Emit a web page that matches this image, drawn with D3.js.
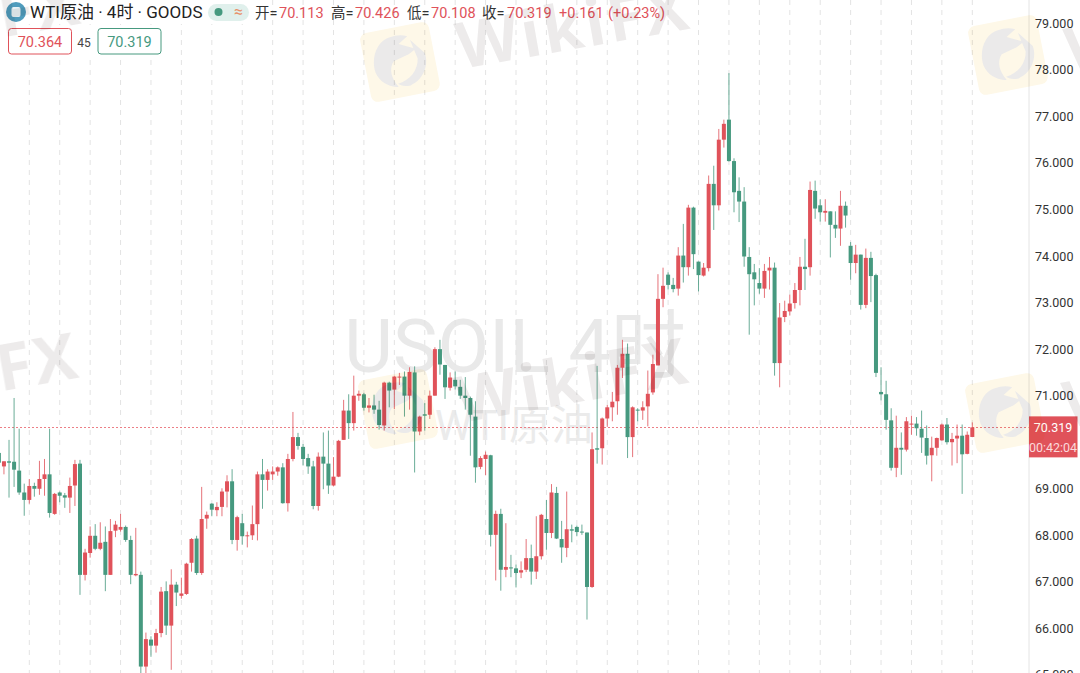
<!DOCTYPE html>
<html><head><meta charset="utf-8">
<script src="https://cdn.jsdelivr.net/npm/d3@7"></script>
<style>html,body{margin:0;padding:0;background:#fff;overflow:hidden}svg{display:block}</style>
</head><body><svg id="c" width="1080" height="673"></svg>
<script>
const opens=[69.77,69.48,69.59,69.58,69.39,68.92,68.76,69.06,69.0,69.21,
69.31,68.46,68.92,68.86,68.81,69.07,69.54,67.15,67.62,67.99,
67.71,67.86,67.15,68.1,68.12,68.18,67.9,67.14,67.15,65.18,
65.76,65.63,65.9,66.8,66.06,66.94,66.7,66.74,67.41,67.93,
67.19,68.36,68.68,68.54,68.61,68.94,69.16,67.9,68.26,67.98,
68.0,68.24,69.31,69.19,69.31,69.37,69.46,68.69,69.64,70.11,
69.9,69.66,69.48,68.63,69.69,69.54,69.07,69.26,70.05,70.68,
70.41,71.0,71.03,70.74,70.79,70.7,70.36,71.28,71.13,71.39,
71.41,71.0,71.5,70.23,70.6,70.59,71.0,72.0,71.66,71.17,
71.34,71.19,71.0,70.95,70.55,69.47,69.64,69.72,68.01,68.46,
67.26,67.31,67.29,67.2,67.26,67.51,67.22,67.55,68.35,68.05,
68.91,67.92,67.73,68.13,68.18,68.08,68.06,66.89,69.87,69.87,
70.51,70.75,70.88,71.6,71.9,70.11,70.7,70.68,70.77,71.07,
71.65,73.08,73.6,73.38,73.3,74.01,73.76,75.04,73.88,73.58,
73.74,75.55,75.09,76.5,76.93,76.04,75.4,75.17,73.98,73.65,
73.42,73.3,73.69,73.75,71.7,72.69,72.81,72.99,73.27,73.77,
73.76,75.4,75.09,74.93,74.96,74.67,74.59,75.08,74.22,73.85,
74.03,72.95,73.96,73.59,71.08,71.03,70.47,69.45,69.88,69.84,
70.38,70.4,70.29,70.09,69.72,69.88,70.04,70.38,70.0,70.08,
70.14,69.75,70.113];
const highs=[69.88,69.59,70.05,70.95,70.29,69.11,69.21,69.13,69.6,69.64,
70.29,68.91,68.94,68.91,69.24,69.62,69.62,67.71,68.19,68.24,
68.28,68.19,68.35,68.31,68.46,68.21,67.99,68.16,67.22,65.91,
65.83,65.99,66.89,67.01,67.27,67.0,67.09,67.41,67.94,67.99,
69.04,68.51,68.69,68.71,69.01,69.29,69.42,68.42,68.46,68.08,
68.64,69.37,69.64,69.42,69.48,69.48,69.55,69.75,70.65,70.2,
69.96,69.75,69.6,69.78,70.21,70.25,69.68,70.05,70.91,71.03,
71.43,71.11,71.06,70.95,71.02,70.89,71.3,71.3,71.43,71.49,
71.52,71.61,71.63,70.57,70.84,71.11,72.04,72.2,71.66,71.5,
71.52,71.34,71.4,70.98,70.88,69.7,69.8,69.73,68.53,68.57,
68.26,67.58,67.37,67.44,67.92,67.8,68.41,68.46,68.76,69.1,
69.04,68.31,68.94,68.23,68.21,68.23,68.06,70.21,71.64,70.53,
70.8,71.08,71.66,72.2,72.12,70.77,70.73,70.88,71.54,71.88,
73.61,73.75,73.65,73.53,74.19,74.69,75.1,75.06,73.88,73.85,
75.73,75.94,76.73,76.93,77.93,76.1,75.69,75.48,74.19,73.83,
73.74,73.83,73.98,73.86,72.99,73.04,73.17,73.42,73.98,74.37,
75.6,75.62,75.22,75.22,74.96,74.96,75.4,75.17,74.3,74.24,
74.03,74.16,74.09,73.62,71.61,71.32,70.73,70.57,70.21,70.54,
70.57,70.54,70.68,70.36,70.12,70.1,70.4,70.52,70.2,70.38,
70.38,70.23,70.426];
const lows=[69.45,69.31,68.81,69.04,68.87,68.42,68.68,68.83,68.87,68.85,
68.38,68.44,68.71,68.59,68.48,68.63,66.72,67.03,67.52,67.68,
67.68,66.8,67.15,67.96,68.08,67.86,66.95,67.12,65.0,65.0,
65.39,65.48,65.81,65.86,65.11,66.48,66.64,66.72,67.22,67.15,
67.15,68.14,68.41,68.41,68.41,68.6,67.81,67.67,67.8,67.74,
67.9,67.89,68.57,68.96,69.19,69.28,68.68,68.51,69.59,69.84,
69.5,69.32,68.56,68.53,68.99,68.89,69.05,69.25,70.05,70.07,
70.25,70.89,70.68,70.64,70.61,70.27,70.25,70.75,70.71,71.23,
70.55,70.7,69.35,70.15,70.25,70.5,71.0,71.45,70.93,71.11,
71.13,70.93,70.7,69.71,69.13,69.42,69.29,67.76,67.03,66.81,
67.1,67.1,66.88,67.08,67.21,66.94,67.06,67.48,67.69,67.94,
67.92,67.41,67.53,67.85,67.98,68.01,66.19,66.87,69.54,69.52,
70.33,70.45,70.59,71.38,69.66,69.68,70.45,70.48,70.34,71.02,
71.65,72.9,73.28,73.22,73.15,73.43,73.58,73.72,73.24,73.56,
73.67,74.56,74.98,76.33,76.03,74.94,74.73,73.77,72.31,72.94,
73.19,73.1,73.28,71.43,71.18,72.58,72.72,72.87,72.94,73.27,
73.58,74.8,74.74,74.74,73.97,74.39,74.22,74.61,73.49,73.63,
72.85,72.88,73.01,71.4,70.9,70.27,69.39,69.25,69.3,69.8,
70.16,70.14,69.77,69.52,69.16,69.71,70.03,69.95,69.5,69.55,
68.89,69.74,70.108];
const closes=[69.56,69.59,69.56,69.41,68.92,68.76,69.06,69.0,69.21,69.31,
68.48,68.89,68.85,68.81,69.06,69.53,67.15,67.63,67.99,67.71,
67.84,67.15,68.09,68.23,68.18,67.9,67.15,67.17,65.18,65.77,
65.63,65.9,66.79,66.06,66.94,66.77,66.75,67.39,67.92,67.19,
68.35,68.44,68.55,68.61,68.94,69.16,67.9,68.39,67.98,68.0,
68.24,69.31,69.19,69.37,69.37,69.46,68.69,69.64,70.11,69.92,
69.64,69.48,68.63,69.69,69.54,69.07,69.26,70.03,70.68,70.41,
71.0,71.04,70.74,70.79,70.7,70.37,71.28,71.11,71.41,71.41,
71.0,71.51,70.23,70.55,70.57,71.0,72.0,71.67,71.18,71.39,
71.2,71.0,70.95,70.59,69.46,69.66,69.73,68.01,68.46,67.26,
67.32,67.29,67.19,67.25,67.51,67.22,67.55,68.44,68.05,68.92,
67.93,67.74,68.13,68.1,68.07,68.06,66.89,69.85,69.84,70.51,
70.75,70.87,71.6,71.9,70.11,70.75,70.68,70.75,71.04,71.68,
73.08,73.36,73.38,73.29,74.01,73.76,75.04,74.04,73.59,73.75,
75.55,75.09,76.5,76.84,76.04,75.37,75.17,73.99,73.61,73.5,
73.3,73.68,73.75,71.7,72.68,72.82,72.98,73.27,73.77,73.72,
75.42,75.02,74.94,74.97,74.67,74.59,75.08,74.87,73.85,74.03,
72.95,73.96,73.57,71.49,71.03,70.48,69.45,69.88,69.84,70.45,
70.4,70.3,70.1,69.71,69.88,70.09,70.38,70.0,70.07,70.14,
69.74,70.16,70.319];
const priceTicks=[79,78,77,76,75,74,73,72,71,69,68,67,66,65];
const lastPrice=70.319;
const lastPriceLabel="70.319";
const countdownLabel="00:42:04";
const titleText="WTI原油 · 4时 · GOODS";
const ohlcPairs=[["开=","70.113",255,279],["高=","70.426",331,355],["低=","70.108",407,431],["收=","70.319",482,507]];
const changeParts=[["+0.161",559],["(+0.23%)",608]];
const bidLabel="70.364", spreadLabel="45", askLabel="70.319";
const watermarkLogos=[[400,62],[1008,55],[398,409],[1005,413]];
const watermarkTexts=[[461,69],[1070,74],[460,423],[1068,428],[-148,64],[-150,418]];

const UP="#e0525a", DOWN="#46997f";
const FONT='Roboto,"Noto Sans CJK SC",sans-serif';
const svg=d3.select("#c");
const W=1080,H=673,AX=1029;
const x=d3.scaleLinear().domain([0,192]).range([-1.12,972.3]);
const y=d3.scaleLinear().domain([66,79]).range([628.4,23.3]);

// chart's own watermark, under the marks
const cwm=svg.append("g");
cwm.append("text").attr("x",515).attr("y",372).attr("text-anchor","middle").attr("font-family",FONT)
  .attr("font-size",75).attr("fill","#e9e9e9").text("USOIL 4时");
cwm.append("text").attr("x",514).attr("y",440).attr("text-anchor","middle").attr("font-family",FONT)
  .attr("font-size",42).attr("fill","#ebebeb").text("WTI原油");

// vertical grid
const gridIdx=d3.range(6,193,6);
svg.append("g").selectAll("line").data(gridIdx).join("line")
  .attr("x1",d=>x(d)).attr("x2",d=>x(d)).attr("y1",0).attr("y2",H)
  .attr("stroke","#e3e3e3").attr("stroke-width",1).attr("stroke-dasharray","5 5");

// last price line
const lastY=Math.round(y(lastPrice))+.5;
svg.append("line").attr("x1",0).attr("x2",AX).attr("y1",lastY).attr("y2",lastY)
  .attr("stroke","#ec7f86").attr("stroke-width",1).attr("stroke-dasharray","2 2");

// candles
const idx=d3.range(opens.length);
const col=i=>closes[i]>=opens[i]?UP:DOWN;
const cg=svg.append("g");
cg.selectAll("line").data(idx).join("line")
  .attr("x1",x).attr("x2",x).attr("y1",i=>y(highs[i])).attr("y2",i=>y(lows[i]))
  .attr("stroke",col).attr("stroke-width",1).attr("opacity",.8);
cg.selectAll("rect").data(idx).join("rect")
  .attr("x",i=>x(i)-2).attr("width",4)
  .attr("y",i=>y(Math.max(opens[i],closes[i])))
  .attr("height",i=>Math.max(1,Math.abs(y(opens[i])-y(closes[i]))))
  .attr("fill",col);

// price axis
svg.append("rect").attr("x",AX).attr("y",0).attr("width",W-AX).attr("height",H).attr("fill","#fff");
svg.append("line").attr("x1",AX).attr("x2",AX).attr("y1",0).attr("y2",H).attr("stroke","#e4e4e4");
const ax=svg.append("g").attr("transform",`translate(${AX},0)`)
  .call(d3.axisRight(y).tickValues(priceTicks).tickSize(0).tickPadding(6).tickFormat(d3.format(".3f")));
ax.select(".domain").remove();
ax.selectAll("text").attr("font-family",FONT).attr("font-size",12.5).attr("fill","#333");

// last price tag
const tagY=y(lastPrice);
svg.append("rect").attr("x",AX).attr("y",tagY-11).attr("width",48.5).attr("height",41).attr("fill","#e0525a");
svg.append("text").attr("x",AX+24).attr("y",tagY+4.5).attr("text-anchor","middle").attr("font-family",FONT)
  .attr("font-size",12.5).attr("fill","#fff").text(lastPriceLabel);
svg.append("text").attr("x",AX+24).attr("y",tagY+25).attr("text-anchor","middle").attr("font-family",FONT)
  .attr("font-size",12.5).attr("fill","#fbd9db").text(countdownLabel);

// legend
svg.append("rect").attr("x",0).attr("y",0).attr("width",252).attr("height",24).attr("fill","#fff");
svg.append("rect").attr("x",5).attr("y",26).attr("width",160).attr("height",30).attr("fill","#fff");
svg.append("circle").attr("cx",16).attr("cy",12).attr("r",10).attr("fill","#4f9cbd");
svg.append("rect").attr("x",11.5).attr("y",7).attr("width",9).attr("height",10).attr("rx",2).attr("fill","#e9f3f7");
svg.append("text").attr("x",30).attr("y",18).attr("font-family",FONT).attr("font-size",17).attr("fill","#222").text(titleText);
svg.append("rect").attr("x",208).attr("y",4).attr("width",41).attr("height",17).attr("rx",8.5).attr("fill","#e0f0ec");
svg.append("circle").attr("cx",218.5).attr("cy",12).attr("r",4).attr("fill",DOWN);
svg.append("text").attr("x",238.5).attr("y",17).attr("text-anchor","middle").attr("font-family",FONT).attr("font-size",16).attr("fill","#e8916a").text("≈");
ohlcPairs.forEach(([k,v,kx,vx])=>{
  svg.append("text").attr("x",kx).attr("y",18).attr("font-family",FONT).attr("font-size",14.5).attr("fill","#333").text(k);
  svg.append("text").attr("x",vx).attr("y",18).attr("font-family",FONT).attr("font-size",14.5).attr("fill",UP).text(v);
});
changeParts.forEach(([t,tx])=>{
  svg.append("text").attr("x",tx).attr("y",18).attr("font-family",FONT).attr("font-size",14.5).attr("fill",UP).text(t);
});
[[8,63,bidLabel,UP],[97.5,63,askLabel,DOWN]].forEach(([bx,bw,t,c])=>{
  svg.append("rect").attr("x",bx+.5).attr("y",28.5).attr("width",bw).attr("height",25.5).attr("rx",3).attr("fill","#fff").attr("stroke",c);
  svg.append("text").attr("x",bx+bw/2+.5).attr("y",47).attr("text-anchor","middle").attr("font-family",FONT).attr("font-size",14.5).attr("fill",c).text(t);
});
svg.append("text").attr("x",84).attr("y",46.5).attr("text-anchor","middle").attr("font-family",FONT).attr("font-size",12).attr("fill","#444").text(spreadLabel);

// image-level WikiFX overlay, on top of everything
const wm=svg.append("g").style("mix-blend-mode","multiply");
watermarkLogos.forEach(([cx,cy])=>{
  const g=wm.append("g").attr("transform",`translate(${cx},${cy}) rotate(-11)`);
  g.append("rect").attr("x",-35).attr("y",-35).attr("width",70).attr("height",70).attr("rx",7).attr("fill","#fef8e8");
  g.append("path").attr("d","M-6,-26 C-20,-24 -28,-8 -26,6 C-24,16 -14,24 -6,24 C-12,14 -12,4 -6,-2 L10,-6 L18,-10 L2,-18 L12,-24 Q4,-28 -6,-26 Z").attr("fill","#ebeaea");
  g.append("path").attr("d","M14,-20 L26,-4 C28,8 20,22 6,25 C-1,25 -4,23 -6,21 C6,20 16,12 18,0 Z").attr("fill","#ebeaea");
});
watermarkTexts.forEach(([tx,ty])=>{
  wm.append("text").attr("transform",`translate(${tx},${ty}) rotate(-10)`)
    .attr("font-family",'"Open Sans",sans-serif').attr("font-weight",700).attr("font-size",64)
    .attr("letter-spacing",3).attr("fill","#edebeb").text("WikiFX");
});
</script></body></html>
